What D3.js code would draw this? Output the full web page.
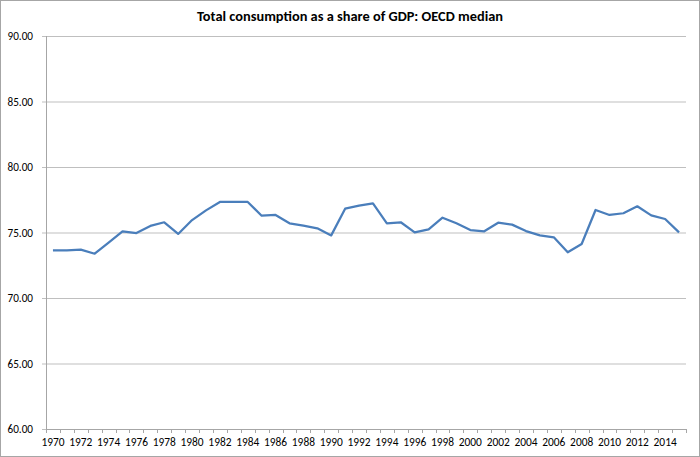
<!DOCTYPE html>
<html>
<head>
<meta charset="utf-8">
<script src="https://cdn.jsdelivr.net/npm/d3@7"></script>
<style>
  body { margin: 0; background: #fff; }
  .tick text { font-family: Carlito, "Liberation Sans", Arial, sans-serif; fill: #000; }
</style>
</head>
<body>
<div id="chart"></div>
<script>
// Chart data
var years = d3.range(1970, 2016);
var consumption = [
  73.64, 73.64, 73.69, 73.38, 74.22, 75.09, 74.96, 75.50, 75.78, 74.89,
  75.95, 76.69, 77.33, 77.33, 77.33, 76.28, 76.34, 75.70, 75.52, 75.32,
  74.78, 76.82, 77.05, 77.23, 75.70, 75.78, 75.01, 75.24, 76.13, 75.70,
  75.19, 75.09, 75.75, 75.60, 75.11, 74.78, 74.63, 73.49, 74.12, 76.72,
  76.34, 76.47, 77.00, 76.31, 76.03, 75.01
];
var yTicks = [60, 65, 70, 75, 80, 85, 90];
var xLabels = d3.range(1970, 2015, 2);
var title = "Total consumption as a share of GDP: OECD median";

var width = 700;
var height = 457;
var plotLeft = 46, plotRight = 686, plotTop = 36, plotBottom = 429;

var svg = d3.select("#chart")
    .append("svg")
    .attr("width", width)
    .attr("height", height);

// Outer chart frame
svg.append("rect")
    .attr("x", 0.5)
    .attr("y", 0.5)
    .attr("width", width - 1)
    .attr("height", height - 1)
    .attr("fill", "#fff")
    .attr("stroke", "#a6a6a6");

// Title
svg.append("text")
    .attr("x", 350)
    .attr("y", 21)
    .attr("text-anchor", "middle")
    .attr("font-family", "Carlito, 'Liberation Sans', Arial, sans-serif")
    .attr("font-weight", "bold")
    .attr("font-size", 13.5)
    .attr("textLength", 306)
    .attr("lengthAdjust", "spacingAndGlyphs")
    .text(title);

var xScale = d3.scaleBand()
    .domain(years)
    .range([plotLeft, plotRight])
    .padding(0);

var yScale = d3.scaleLinear()
    .domain([60, 90])
    .range([plotBottom, plotTop]);

// Horizontal gridlines + y axis labels
var yAxis = d3.axisLeft(yScale)
    .tickValues(yTicks)
    .tickSize(-(plotRight - plotLeft))
    .tickPadding(12)
    .tickFormat(d3.format(".2f"));

var yG = svg.append("g")
    .attr("transform", `translate(${plotLeft}, 0)`)
    .call(yAxis);
yG.select(".domain").remove();
yG.selectAll(".tick line")
    .attr("x1", -4)
    .attr("stroke", "#bfbfbf");
yG.selectAll(".tick text")
    .attr("font-size", 11.2)
    .attr("x", -13);

// vertical axis line
svg.append("line")
    .attr("x1", plotLeft + 0.5)
    .attr("x2", plotLeft + 0.5)
    .attr("y1", plotTop)
    .attr("y2", plotBottom + 3)
    .attr("stroke", "#a6a6a6");

// x axis labels (centered on each category)
var xAxis = d3.axisBottom(xScale)
    .tickValues(xLabels)
    .tickSize(0)
    .tickPadding(9);

var xG = svg.append("g")
    .attr("transform", `translate(0, ${plotBottom})`)
    .call(xAxis);
xG.select(".domain").remove();
xG.selectAll(".tick text").attr("font-size", 11.4);

// x axis line and tick marks between categories
svg.append("line")
    .attr("x1", plotLeft)
    .attr("x2", plotRight)
    .attr("y1", plotBottom + 0.5)
    .attr("y2", plotBottom + 0.5)
    .attr("stroke", "#a6a6a6");

var boundaries = years.map(function(y) { return xScale(y); }).concat([plotRight]);
svg.append("g")
    .selectAll("line")
    .data(boundaries)
    .enter()
    .append("line")
    .attr("x1", function(d) { return Math.round(d) + 0.5; })
    .attr("x2", function(d) { return Math.round(d) + 0.5; })
    .attr("y1", plotBottom)
    .attr("y2", plotBottom + 4)
    .attr("stroke", "#a6a6a6");

// The series line
var line = d3.line()
    .x(function(d, i) { return xScale(years[i]) + xScale.bandwidth() / 2; })
    .y(function(d) { return yScale(d); });

svg.append("path")
    .datum(consumption)
    .attr("fill", "none")
    .attr("stroke", "#4a7ebb")
    .attr("stroke-width", 2.25)
    .attr("stroke-linejoin", "round")
    .attr("d", line);
</script>
</body>
</html>
